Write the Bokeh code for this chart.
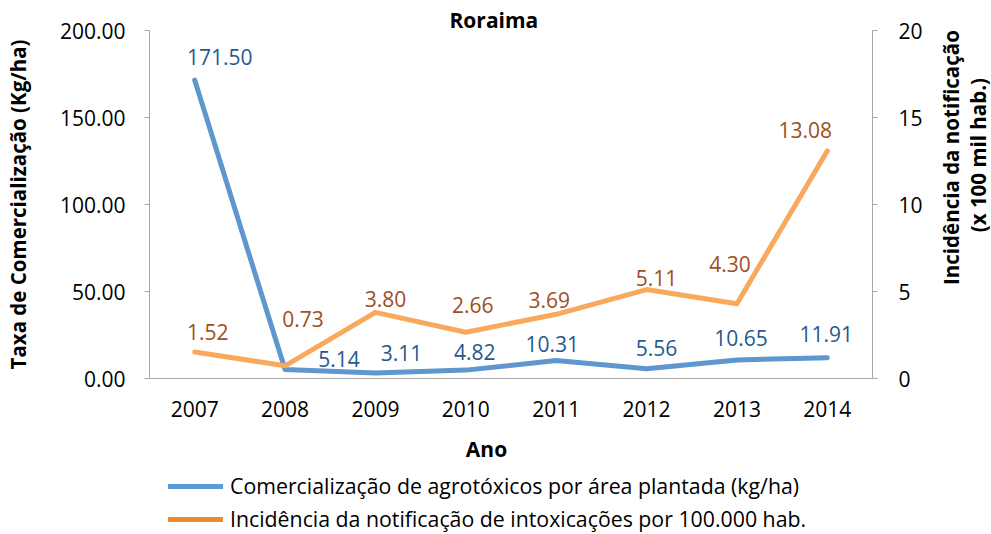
import math
from bokeh.plotting import figure
from bokeh.layouts import row, column
from bokeh.models import (Range1d, FactorRange, LinearAxis, FixedTicker, NumeralTickFormatter,
                          ColumnDataSource, Legend, LegendItem, Label)
from bokeh.core.properties import value
from bokeh.embed import file_html
from bokeh.resources import INLINE

# ---------------- data ----------------
chart_title = "Roraima"
years = ["2007", "2008", "2009", "2010", "2011", "2012", "2013", "2014"]
comercializacao = [171.50, 5.14, 3.11, 4.82, 10.31, 5.56, 10.65, 11.91]
incidencia = [1.52, 0.73, 3.80, 2.66, 3.69, 5.11, 4.30, 13.08]
left_ticks = [0, 50, 100, 150, 200]
right_ticks = [0, 5, 10, 15, 20]
series_names = ["Comercialização de agrotóxicos por área plantada (kg/ha)",
                "Incidência da notificação de intoxicações por 100.000 hab."]
left_title = "Taxa de Comercialização (Kg/ha)"
right_title = ["Incidência da notificação", "(x 100 mil hab.)"]
x_title = "Ano"

# ---------------- styles / layout ----------------
FONT = "Open Sans"
BLUE_LINE = "#5E96CD"
ORANGE_LINE = "#F8A95C"
BLUE_TEXT = "#245A8F"
ORANGE_TEXT = "#A04E22"
BLUE_LEG = "#5B9BD5"
ORANGE_LEG = "#EE8A2E"
AXIS_GRAY = "#A6A6A6"

# label offsets in pixels (manual placement as in the original)
blue_dx = [25, 54, 26, 9, -4, 10, 4, -1]
blue_dy = [-23, -11, -20, -18, -17, -21, -22, -24]
orange_dx = [13, 18, 10, 7, -7, 10, -7, -22]
orange_dy = [-20, -47, -13, -27, -14, -12, -40, -21]

MAIN_W, MAIN_H = 930, 430
SIDE_W = 991 - MAIN_W
BOT_H = 534 - MAIN_H

# ================= main chart =================
p = figure(width=MAIN_W, height=MAIN_H,
           x_range=FactorRange(factors=years, range_padding=0),
           y_range=Range1d(0, 200),
           output_backend="svg", toolbar_location=None,
           min_border_left=146, min_border_right=MAIN_W - 872,
           min_border_top=30, min_border_bottom=MAIN_H - 378)
p.extra_y_ranges = {"right": Range1d(0, 20)}
p.outline_line_color = None
p.xgrid.grid_line_color = None
p.ygrid.grid_line_color = None

# title
p.title.text = chart_title
p.title.align = "left"
p.title.offset = 300
p.title.text_font = FONT
p.title.text_font_size = "21px"
p.title.text_font_style = "bold"
p.title.text_color = "#000000"
p.title.vertical_align = "bottom"
try:
    p.title.standoff = -6
except Exception:
    p.title.standoff = 0

# x axis
xa = p.xaxis[0]
xa.axis_line_color = AXIS_GRAY
xa.major_tick_out = 0
xa.major_tick_in = 0
xa.minor_tick_out = 0
xa.minor_tick_in = 0
xa.major_label_standoff = 22
xa.major_label_text_font = FONT
xa.major_label_text_font_size = "21px"
xa.major_label_text_color = "#000000"

# left axis
ya = p.yaxis[0]
ya.ticker = FixedTicker(ticks=left_ticks)
ya.formatter = NumeralTickFormatter(format="0.00")
ya.axis_line_color = AXIS_GRAY
ya.major_tick_line_color = AXIS_GRAY
ya.major_tick_out = 5
ya.major_tick_in = 0
ya.minor_tick_out = 0
ya.minor_tick_in = 0
ya.major_label_standoff = 19
ya.major_label_text_font = FONT
ya.major_label_text_font_size = "21px"
ya.major_label_text_color = "#000000"
ya.axis_label = left_title
ya.axis_label_text_font = FONT
ya.axis_label_text_font_size = "20.5px"
ya.axis_label_text_font_style = "bold"
ya.axis_label_text_color = "#000000"
ya.axis_label_standoff = 25

# right axis
ra = LinearAxis(y_range_name="right", ticker=FixedTicker(ticks=right_ticks),
                formatter=NumeralTickFormatter(format="0"))
ra.axis_line_color = AXIS_GRAY
ra.major_tick_line_color = AXIS_GRAY
ra.major_tick_out = 5
ra.major_tick_in = 0
ra.minor_tick_out = 0
ra.minor_tick_in = 0
ra.major_label_standoff = 21
ra.major_label_text_font = FONT
ra.major_label_text_font_size = "21px"
ra.major_label_text_color = "#000000"
p.add_layout(ra, "right")

# lines
src = ColumnDataSource(dict(
    year=years, com=comercializacao, inc=incidencia,
    com_lbl=[f"{v:.2f}" for v in comercializacao],
    inc_lbl=[f"{v:.2f}" for v in incidencia],
    bdx=blue_dx, bdy=blue_dy, odx=orange_dx, ody=orange_dy,
))
p.line(x="year", y="com", source=src, line_color=BLUE_LINE, line_width=5,
       line_cap="round", line_join="round")
p.line(x="year", y="inc", source=src, y_range_name="right", line_color=ORANGE_LINE,
       line_width=5, line_cap="round", line_join="round")

# data labels
p.text(x="year", y="com", text="com_lbl", source=src, x_offset="bdx", y_offset="bdy",
       text_align="center", text_baseline="middle", text_color=BLUE_TEXT,
       text_font=value(FONT), text_font_size="21px")
p.text(x="year", y="inc", text="inc_lbl", source=src, y_range_name="right",
       x_offset="odx", y_offset="ody",
       text_align="center", text_baseline="middle", text_color=ORANGE_TEXT,
       text_font=value(FONT), text_font_size="21px")


def blank(w, h):
    f = figure(width=w, height=h, x_range=Range1d(0, w), y_range=Range1d(h, 0),
               output_backend="svg", toolbar_location=None,
               x_axis_location=None, y_axis_location=None,
               min_border=0, min_border_left=0, min_border_right=0,
               min_border_top=0, min_border_bottom=0)
    f.outline_line_color = None
    f.xgrid.grid_line_color = None
    f.ygrid.grid_line_color = None
    return f


# ================= right-hand axis title =================
side = blank(SIDE_W, MAIN_H)
side.add_layout(Label(x=950 - MAIN_W, y=157, text=right_title[0], angle=math.pi / 2,
                      text_align="center", text_baseline="middle",
                      text_font=FONT, text_font_size="20.5px", text_font_style="bold",
                      text_color="#000000"))
side.add_layout(Label(x=977 - MAIN_W, y=154, text=right_title[1], angle=math.pi / 2,
                      text_align="center", text_baseline="middle",
                      text_font=FONT, text_font_size="20.5px", text_font_style="bold",
                      text_color="#000000"))

# ================= x title + legend =================
bot = blank(991, BOT_H)
bot.add_layout(Label(x=486, y=448 - MAIN_H, text=x_title,
                     text_align="center", text_baseline="middle",
                     text_font=FONT, text_font_size="21px", text_font_style="bold",
                     text_color="#000000"))
nan = float("nan")
leg_src = ColumnDataSource(dict(x=[nan], y=[nan]))
leg_b = bot.line(x="x", y="y", source=leg_src, line_color=BLUE_LEG, line_width=5,
                 line_cap="round")
leg_o = bot.line(x="x", y="y", source=leg_src, line_color=ORANGE_LEG, line_width=5,
                 line_cap="round")
legend = Legend(items=[LegendItem(label=series_names[0], renderers=[leg_b]),
                       LegendItem(label=series_names[1], renderers=[leg_o])],
                location=(168, 1), orientation="vertical",
                label_text_font=FONT, label_text_font_size="21.3px",
                label_text_color="#000000",
                glyph_width=55, glyph_height=26, label_height=26, label_standoff=7,
                spacing=4, padding=0, margin=0,
                border_line_color=None, background_fill_alpha=0)
bot.add_layout(legend, "center")

layout = column(row(p, side, spacing=0), bot, spacing=0)

open("out.html", "w").write(file_html(layout, INLINE))
